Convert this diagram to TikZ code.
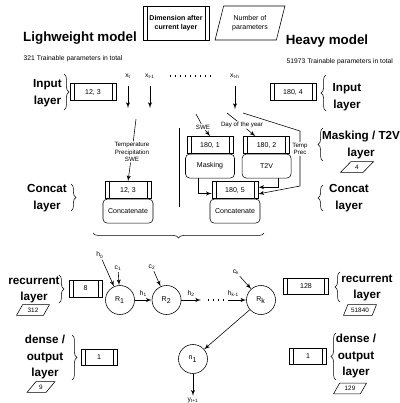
\documentclass[tikz,border=0pt]{standalone}
\usepackage{fontspec}
\setmainfont{Liberation Sans}
\usetikzlibrary{positioning, arrows, shapes.geometric, decorations.pathreplacing}
\tikzset{
dimbox/.style={
  draw,
  rectangle,
  minimum width=1.15cm,
  minimum height=0.425cm,
  inner sep=0pt,
  font=\fontsize{5}{6}\selectfont,
  path picture={
    \draw ([xshift=2.8pt]path picture bounding box.north west) -- ([xshift=2.8pt]path picture bounding box.south west);
    \draw ([xshift=-2.8pt]path picture bounding box.north east) -- ([xshift=-2.8pt]path picture bounding box.south east);
    }
  },
block/.style={
  draw,
  rectangle,
  rounded corners=3pt,
  minimum width=1.25cm,
  minimum height=0.6cm,
  font=\fontsize{5}{6}\selectfont
  },
cell/.style={draw, circle, minimum size=0.725cm, inner sep=0pt, font=\fontsize{5}{6}\selectfont},
params/.style={
  draw,
  trapezium,
  trapezium left angle=55,
  trapezium right angle=125,
  trapezium stretches=true,
  minimum width=0.825cm,
  minimum height=0.27cm,
  inner sep=0pt,
  font=\fontsize{4.5}{5}\selectfont
  },
modeltitle/.style={font=\fontsize{9.5}{11}\selectfont\bfseries},
layername/.style={font=\fontsize{8.3}{11.7}\selectfont\bfseries, align=center},
smalltxt/.style={font=\fontsize{4.8}{5.5}\selectfont, inner sep=1pt},
lbl/.style={font=\fontsize{4.4}{5.3}\selectfont, align=center, fill=white, inner sep=0.5pt},
line/.style={->,>=latex'},
brc/.style={decorate, decoration={brace, amplitude=3.5pt}},
dotline/.style={dash pattern=on 0.8pt off 2.8pt, line width=0.8pt}
}
\begin{document}
\begin{tikzpicture}[x=0.025cm, y=-0.025cm]
\useasboundingbox (0,0) rectangle (400,403);

% legend and titles
\node[dimbox, minimum width=1.65cm, minimum height=0.85cm, align=center, font=\fontsize{5}{6}\selectfont\bfseries] (legdim) at (176,23) {Dimension after\\current layer};
\node[params, trapezium left angle=69, trapezium right angle=111, minimum width=1.75cm, minimum height=0.85cm, align=center, font=\fontsize{5}{6}\selectfont] (legpar) at (250,23) {Number of\\parameters};
\node[modeltitle]	(lighttitle)	at (80,38)		{Lighweight model};
\node[smalltxt, anchor=west]	(lighttotal)	at (22,59)	{321 Trainable parameters in total};
\node[modeltitle]	(heavytitle)	at (327,41)		{Heavy model};
\node[smalltxt, anchor=west]	(heavytotal)	at (285,62)	{51973 Trainable parameters in total};

% input
\node[smalltxt]	(xt)		at (128,76)		{x\textsubscript{t}};
\node[smalltxt]	(xt1)	at (150,76)		{x\textsubscript{t-1}};
\node[smalltxt]	(xth)	at (235,76)		{x\textsubscript{t-h}};
\coordinate (xtend) at (128,108);
\coordinate (xt1end) at (150,108);
\coordinate (xthend) at (235,109);
\draw[dotline] ([xshift=14pt]xt1.center) -- ([xshift=-16pt]xth.center);
\draw[line, shorten <=4pt]	(xt)		--	(xtend);
\draw[line, shorten <=4pt]	(xt1)	--	(xt1end);
\draw[line, shorten <=4pt]	(xth)	--	(xthend);

\node[dimbox]	(inL)		at (93,92)		{12, 3};
\node[layername]	(inLname)	at (47.5,93)		{Input\\layer};
\draw[brc] (64,74) -- (64,110);
\node[dimbox]	(inR)		at (293,92)		{180, 4};
\node[layername]	(inRname)	at (347,97)		{Input\\layer};
\draw[brc] (326,111) -- (326,75);

% lightweight concat
\coordinate (tempstart) at (136,119);
\node[lbl]		(temp)		at (132,152)		{Temperature\\Precipitation\\SWE};
\node[dimbox]	(concatL)	at (128,190)		{12, 3};
\node[block]	(concatLblk)	[below=0pt of concatL]	{Concatenate};
\node[layername]	(concatLname)	at (47,198)	{Concat\\layer};
\draw[brc] (71,184) -- (71,211);
\draw[line]	(tempstart)	--	(temp)	--	(concatL.north);

\draw (179,128) -- (179,207);

% heavy masking / t2v
\node[dimbox]	(mask)		at (210,145)			{180, 1};
\node[block, minimum width=1.225cm]	(maskblk)	[below=0pt of mask]	{Masking};
\node[dimbox]	(t2v)		[right=0.25cm of mask]	{180, 2};
\node[block, minimum width=1.225cm]	(t2vblk)	[below=0pt of t2v]	{T2V};
\node[dimbox]	(concatR)	at (235,190)			{180, 5};
\node[block]	(concatRblk)	[below=0pt of concatR]	{Concatenate};

\coordinate (swestart) at (196,114);
\coordinate (daystart) at (227,113);
\coordinate (tpstart) at (243,113);
\coordinate (tpbend) at (300,131);
\coordinate (tpbend2) at (300,186);
\node[lbl]	(swe)	at (203,127)	{SWE};
\node[lbl]	(day)	at (242,125)	{Day of the year};
\node[lbl]	(tprec)	at (300,149)	{Temp\\Prec};

\draw[line]	(swestart)	--	(swe)	--	(mask.north);
\draw[line]	(daystart)	--	(day)	--	([xshift=-8pt]t2v.north);
\draw[line]	(tpstart)	--	(tpbend)	--	(tprec)	--	(tpbend2)	--	([yshift=-2.8pt]concatR.east);
\draw[line]	([xshift=-8.5pt]maskblk.south)	|-	([yshift=-2.5pt]concatR.west);
\draw[line]	([xshift=8.5pt]t2vblk.south)	|-	([yshift=2pt]concatR.east);

\node[layername]	(maskname)	at (361,145)	{Masking / T2V\\layer};
\draw[brc] (323,161) -- (323,128);
\node[params]	(maskpar)	at (357,167)	{4};
\node[layername]	(concatRname)	at (349,198)	{Concat\\layer};
\draw[brc] (323,211) -- (323,185);

\draw[brc] (264,233) -- (93,233);

% recurrent
\node[cell]	(R1)		at (120,300)		{R\textsubscript{1}};
\node[cell]	(R2)		[right=0.425cm of R1]	{R\textsubscript{2}};
\node[cell]	(Rk)		at (261,300)		{R\textsubscript{k}};
\node[cell]	(n1)		at (193,359)		{n\textsubscript{1}};
\node[smalltxt]	(h0)	at (100,255)	{h\textsubscript{0}};
\node[smalltxt]	(c1)	at (118,268)	{c\textsubscript{1}};
\node[smalltxt]	(c2)	at (152,267)	{c\textsubscript{2}};
\node[smalltxt]	(ck)	at (236,272)	{c\textsubscript{k}};
\node[smalltxt]	(yout)	at (193,400)	{y\textsubscript{t+1}};
\coordinate (hdotA) at (201,300);
\coordinate (hdotB) at (228,300);

\draw[line]	(h0)	--	(R1);
\draw[line]	(c1)	--	(R1);
\draw[line]	(c2)	--	(R2);
\draw[line]	(ck)	--	(Rk);
\draw[line]	(R1)	--	node[smalltxt, above=1pt] {h\textsubscript{1}}	(R2);
\draw[line]	(R2)	--	node[smalltxt, above=1pt] {h\textsubscript{2}}	(hdotA);
\draw[dotline]	([xshift=5pt]hdotA)	--	(hdotB);
\draw[line]	(hdotB)	--	node[smalltxt, above=1pt, pos=0.3] {h\textsubscript{k-1}}	(Rk);
\draw[line]	(Rk)	--	(n1);
\draw[line]	(n1)	--	(yout);

\node[layername]	(recLname)	at (34,290)	{recurrent\\layer};
\draw[brc] (59,275) -- (59,303);
\node[dimbox, minimum width=0.825cm]	(recL)	at (85.5,288.5)	{8};
\node[params]	(recLpar)	at (33,310)	{312};

\node[layername]	(denseLname)	at (45,357)	{dense /\\output\\layer};
\draw[brc] (72,335) -- (72,380);
\node[dimbox, minimum width=0.9cm, minimum height=0.4cm]	(denseL)	at (99,357.5)	{1};
\node[params, minimum width=0.7cm]	(denseLpar)	at (41,387)	{9};

\node[dimbox, minimum width=1.125cm, minimum height=0.4cm]	(recR)	at (306,286)	{128};
\node[layername]	(recRname)	at (367,288)	{recurrent\\layer};
\draw[brc] (340,302) -- (340,272);
\node[params]	(recRpar)	at (360,310)	{51840};

\node[dimbox, minimum width=0.925cm, minimum height=0.4cm]	(denseR)	at (308,356.5)	{1};
\node[layername]	(denseRname)	at (356,356)	{dense /\\output\\layer};
\draw[brc] (336,380) -- (336,333);
\node[params]	(denseRpar)	at (350,388.5)	{129};
\end{tikzpicture}
\end{document}
